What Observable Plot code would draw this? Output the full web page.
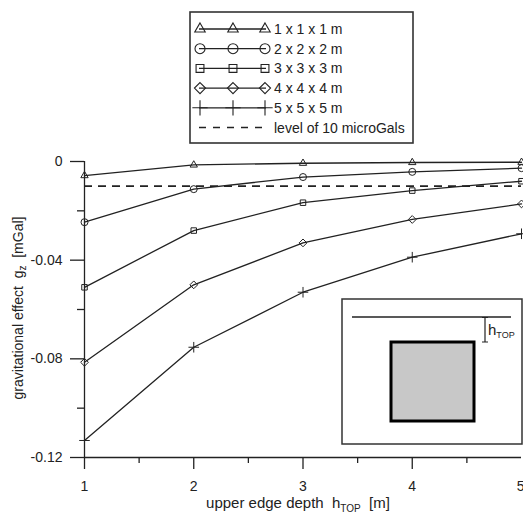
<!DOCTYPE html>
<html><head><meta charset="utf-8">
<script src="https://cdn.jsdelivr.net/npm/d3@7"></script>
<script src="https://cdn.jsdelivr.net/npm/@observablehq/plot@0.6"></script>
<style>
body{margin:0;background:#fff;}
#chart{position:relative;width:523px;height:514px;}
</style>
</head><body><div id="chart"></div>
<script>
// ---- data ----
const depth = [1, 2, 3, 4, 5];
const g1 = [-0.0057, -0.0014, -0.0007, -0.0004, -0.0003];
const g2 = [-0.0246, -0.0112, -0.0063, -0.0042, -0.0027];
const g3 = [-0.0510, -0.0280, -0.0167, -0.0118, -0.0080];
const g4 = [-0.0814, -0.0500, -0.0330, -0.0235, -0.0172];
const g5 = [-0.1131, -0.0753, -0.0530, -0.0388, -0.0293];
const seriesNames = ["1 x 1 x 1 m", "2 x 2 x 2 m", "3 x 3 x 3 m", "4 x 4 x 4 m", "5 x 5 x 5 m"];
const seriesSymbols = ["triangle2", "circle", "square2", "diamond2", "plus"];
const levelValue = -0.01;
const levelLabel = "level of 10 microGals";
const yMajorTicks = [0, -0.04, -0.08, -0.12];
const yMinorTicks = [-0.02, -0.06, -0.10];
const xMajorTicks = [1, 2, 3, 4];
const xLastTick = [5];
const xMinorTicks = [1.5, 2.5, 3.5, 4.5];

const seriesValues = [g1, g2, g3, g4, g5];
const rows = [];
seriesValues.forEach((vals, i) => vals.forEach((v, j) => rows.push({depth: depth[j], g: v, s: seriesNames[i], idx: i})));

const ink = "#222";
const plot = Plot.plot({
  width: 523, height: 514,
  marginLeft: 84, marginRight: 2, marginTop: 161, marginBottom: 57,
  style: {fontFamily: "'Liberation Sans', Arial, sans-serif", fontSize: "14px", color: ink, background: "#fff"},
  x: {domain: [1, 5]},
  y: {domain: [-0.12, 0]},
  marks: [
    Plot.axisY(yMajorTicks, {tickSize: 14, tickPadding: 8, strokeWidth: 1.3, tickFormat: d => d === 0 ? "0" : d.toFixed(2), label: null}),
    Plot.axisY(yMinorTicks, {tickSize: 7, strokeWidth: 1.3, tickFormat: () => "", label: null}),
    Plot.axisX(xMajorTicks, {tickSize: 12, tickPadding: 12, strokeWidth: 1.3, tickFormat: d => String(d), label: null}),
    Plot.axisX(xLastTick, {tickSize: 12, tickPadding: 12, strokeWidth: 1.3, tickFormat: d => String(d), textAnchor: "end", dx: 3, label: null}),
    Plot.axisX(xMinorTicks, {tickSize: 6, strokeWidth: 1.3, tickFormat: () => "", label: null}),
    Plot.ruleX([1], {stroke: ink, strokeWidth: 1.3}),
    Plot.ruleY([-0.12], {stroke: ink, strokeWidth: 1.3}),
    Plot.ruleY([levelValue], {stroke: ink, strokeWidth: 1.6, strokeDasharray: "8,6"}),
    Plot.line(rows, {x: "depth", y: "g", z: "s", stroke: ink, strokeWidth: 1.3}),
    ...seriesNames.map((name, i) => Plot.dot(rows.filter(r => r.idx === i), {x: "depth", y: "g", symbol: seriesSymbols[i], r: 3.5, stroke: ink, fill: "none", strokeWidth: 1}))
  ]
});
document.getElementById("chart").appendChild(plot);

const svg = d3.select(plot);
const font = "'Liberation Sans', Arial, sans-serif";

// axis titles
const yl = svg.append("text").attr("transform", "translate(19,308) rotate(-90)")
  .attr("text-anchor", "middle").attr("dominant-baseline", "middle")
  .style("font-family", font).style("font-size", "14px").style("white-space", "pre").attr("fill", ink);
yl.append("tspan").text("gravitational effect  g");
yl.append("tspan").attr("font-size", "10px").attr("dy", "4").text("z");
yl.append("tspan").attr("dy", "-4").text("  [mGal]");

const xl = svg.append("text").attr("x", 298).attr("y", 508)
  .attr("text-anchor", "middle")
  .style("font-family", font).style("font-size", "15px").style("white-space", "pre").attr("fill", ink);
xl.append("tspan").text("upper edge depth  h");
xl.append("tspan").attr("font-size", "10px").attr("dy", "4").text("TOP");
xl.append("tspan").attr("dy", "-4").text("  [m]");

// legend
const lg = svg.append("g").attr("text-anchor", "start");
lg.append("rect").attr("x", 190).attr("y", 12).attr("width", 223).attr("height", 131)
  .attr("fill", "#fff").attr("stroke", "#333").attr("stroke-width", 1.6);
const rowY = i => 29 + i * 19.7;
const d3sym = {triangle2: d3.symbolTriangle2, circle: d3.symbolCircle, square2: d3.symbolSquare2, diamond2: d3.symbolDiamond2, plus: d3.symbolPlus};
seriesNames.forEach((name, i) => {
  const y = rowY(i);
  lg.append("line").attr("x1", 199).attr("x2", 266).attr("y1", y).attr("y2", y).attr("stroke", ink).attr("stroke-width", 1.3);
  [200, 233, 265].forEach(x => {
    lg.append("path").attr("transform", `translate(${x},${y})`)
      .attr("d", d3.symbol(d3sym[seriesSymbols[i]], Math.PI * 25)())
      .attr("fill", "none").attr("stroke", ink).attr("stroke-width", 1.1);
  });
  lg.append("text").attr("x", 274).attr("y", y).attr("dy", "0.36em").attr("text-anchor", "start")
    .style("font-family", font).style("font-size", "14px").attr("fill", ink).text(name);
});
{
  const y = rowY(5);
  lg.append("line").attr("x1", 199).attr("x2", 266).attr("y1", y).attr("y2", y).attr("stroke", ink).attr("stroke-width", 1.5).attr("stroke-dasharray", "7,7");
  lg.append("text").attr("x", 274).attr("y", y).attr("dy", "0.36em").attr("text-anchor", "start")
    .style("font-family", font).style("font-size", "14px").attr("fill", ink).text(levelLabel);
}

// inset schematic
const ins = svg.append("g").attr("text-anchor", "start");
ins.append("rect").attr("x", 342).attr("y", 299).attr("width", 180).attr("height", 145)
  .attr("fill", "#fff").attr("stroke", "#333").attr("stroke-width", 1.5);
ins.append("line").attr("x1", 352).attr("x2", 511).attr("y1", 317).attr("y2", 317).attr("stroke", ink).attr("stroke-width", 1.3);
ins.append("rect").attr("x", 391).attr("y", 342).attr("width", 83).attr("height", 79)
  .attr("fill", "#c8c8c8").attr("stroke", "#000").attr("stroke-width", 3);
ins.append("path").attr("d", "M482,317.5H488M485,317.5V342M482,342H488").attr("stroke", ink).attr("stroke-width", 1.2).attr("fill", "none");
const ht = ins.append("text").attr("x", 488).attr("y", 335).attr("text-anchor", "start")
  .style("font-family", font).style("font-size", "15px").attr("fill", ink);
ht.append("tspan").attr("fill", ink).text("h");
ht.append("tspan").attr("fill", ink).attr("font-size", "9px").attr("dy", "3").text("TOP");
</script>
</body></html>
